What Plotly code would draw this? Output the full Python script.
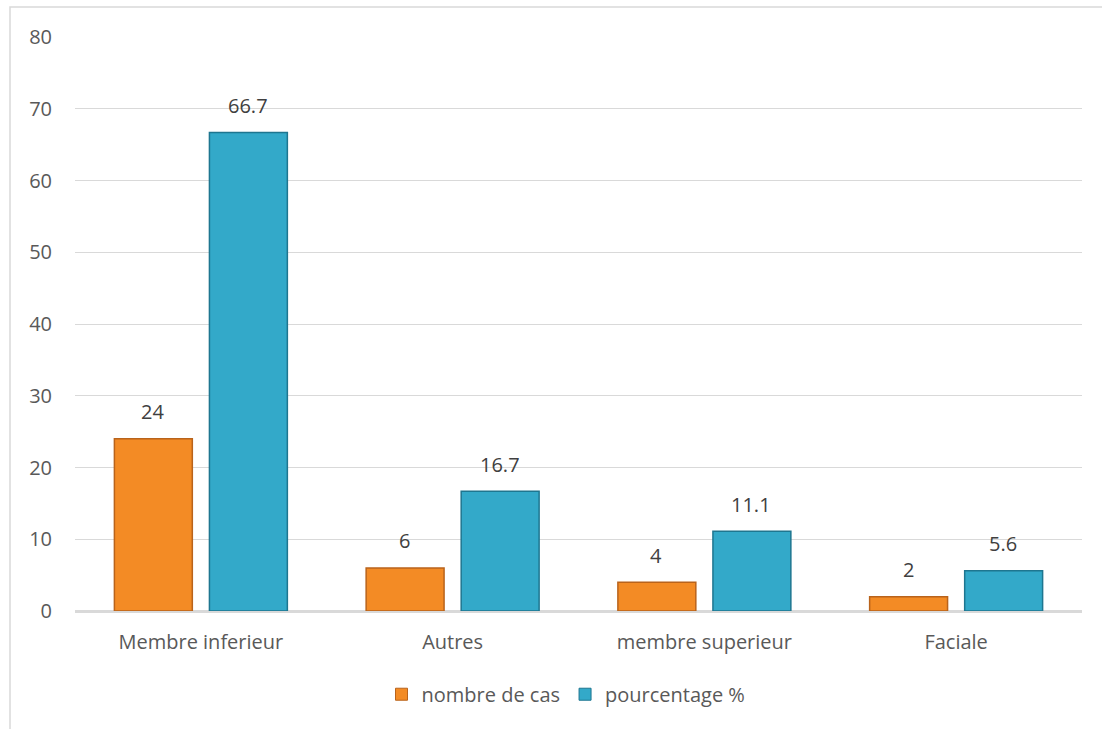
import plotly.graph_objects as go

categories = ["Membre inferieur", "Autres", "membre superieur", "Faciale"]
nombre_de_cas = [24, 6, 4, 2]
pourcentage = [66.7, 16.7, 11.1, 5.6]
series_names = ["nombre de cas", "pourcentage %"]
y_ticks = [0, 10, 20, 30, 40, 50, 60, 70, 80]

FONT = "'Open Sans', sans-serif"
ORANGE = "#F38B25"
ORANGE_LINE = "#B9631B"
BLUE = "#33A9C9"
BLUE_LINE = "#1E7690"

fig = go.Figure()
fig.add_trace(go.Bar(
    x=categories, y=nombre_de_cas, name=series_names[0], showlegend=False,
    marker=dict(color=ORANGE, line=dict(color=ORANGE_LINE, width=1.5)),
))
fig.add_trace(go.Bar(
    x=categories, y=pourcentage, name=series_names[1], showlegend=False,
    marker=dict(color=BLUE, line=dict(color=BLUE_LINE, width=1.5)),
))
# legend-only square markers
fig.add_trace(go.Scatter(x=[None], y=[None], mode="markers", name=series_names[0],
                         marker=dict(symbol="square", size=12, color=ORANGE,
                                     line=dict(color=ORANGE_LINE, width=1))))
fig.add_trace(go.Scatter(x=[None], y=[None], mode="markers", name=series_names[1],
                         marker=dict(symbol="square", size=12, color=BLUE,
                                     line=dict(color=BLUE_LINE, width=1))))

annotations = []
for cat, v in zip(categories, nombre_de_cas):
    annotations.append(dict(x=cat, y=v, xref="x", yref="y", text=str(v), showarrow=False,
                            xshift=-48, yshift=27, font=dict(size=20, color="#404040", family=FONT)))
for cat, v in zip(categories, pourcentage):
    annotations.append(dict(x=cat, y=v, xref="x", yref="y", text=f"{v:.1f}", showarrow=False,
                            xshift=47, yshift=27, font=dict(size=20, color="#404040", family=FONT)))

fig.update_layout(
    width=1102, height=729,
    margin=dict(l=75, r=20, t=37, b=118),
    paper_bgcolor="white", plot_bgcolor="white",
    barmode="group", bargap=0.245, bargroupgap=0.18,
    font=dict(family=FONT, size=20, color="#595959"),
    showlegend=True,
    legend=dict(orientation="h", x=0.4876, xanchor="center", y=-0.145, yanchor="middle",
                font=dict(size=20, color="#595959", family=FONT),
                itemwidth=30, traceorder="normal", tracegroupgap=0),
    xaxis=dict(showgrid=False, showline=False, ticks="", ticklabelstandoff=17,
               tickfont=dict(size=20, color="#595959")),
    yaxis=dict(range=[0, 80], tickvals=y_ticks, showgrid=True, gridcolor="#D9D9D9", gridwidth=1,
               zeroline=True, zerolinecolor="#D9D9D9", zerolinewidth=2.5,
               showline=False, ticks="", ticklabelstandoff=22,
               tickfont=dict(size=20, color="#595959")),
    annotations=annotations,
    shapes=[dict(type="rect", xref="paper", yref="paper",
                 x0=(10 - 75) / 1007, x1=(1110 - 75) / 1007,
                 y0=(611 - 740) / 574, y1=1 + 30 / 574,
                 line=dict(color="#D9D9D9", width=1.5), layer="below")],
)

fig.write_html("out.html")
